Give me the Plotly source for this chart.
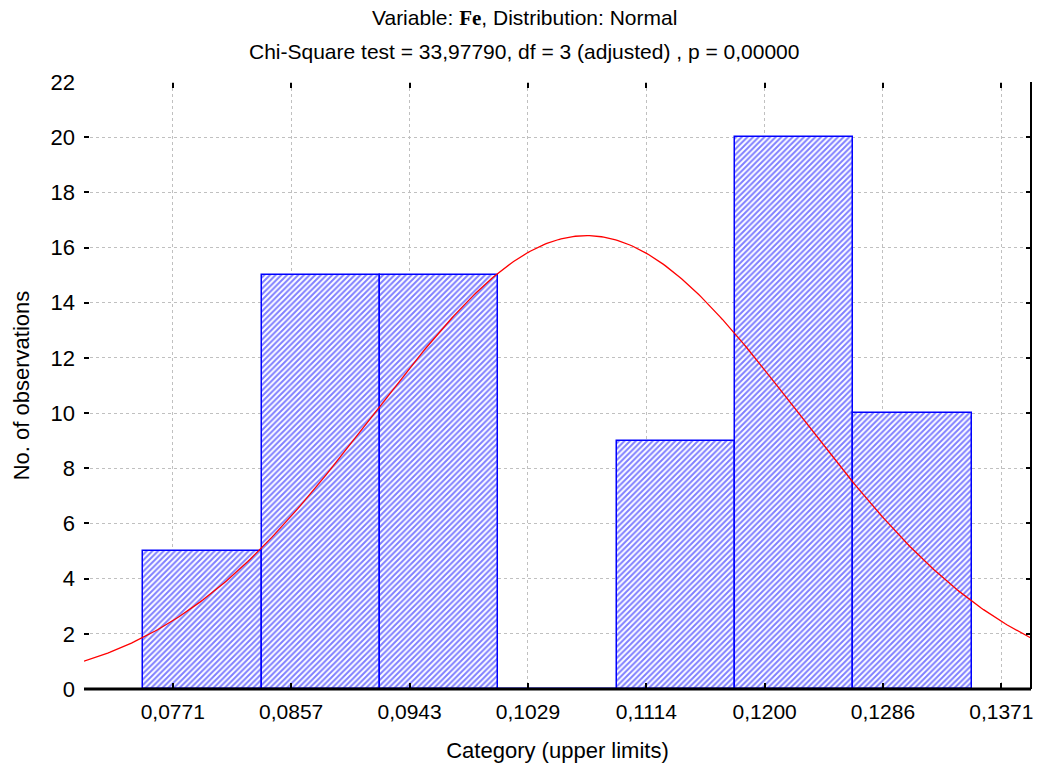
import numpy as np
import plotly.graph_objects as go

# Histogram of Fe with fitted normal curve
bin_edges = [0.0750, 0.08357, 0.09214, 0.10071, 0.10929, 0.11786, 0.12643, 0.1350]
counts = [5, 15, 15, 0, 9, 20, 10]

tick_vals = [0.07714, 0.08571, 0.09429, 0.10286, 0.11143, 0.12000, 0.12857, 0.13714]
tick_text = ["0,0771", "0,0857", "0,0943", "0,1029", "0,1114", "0,1200", "0,1286", "0,1371"]

y_ticks = list(range(0, 23, 2))

# fitted normal distribution parameters
fit_mean = 0.1071
fit_sd = 0.0154

x_range = [0.07071, 0.13929]

edges = np.array(bin_edges)
centers = (edges[:-1] + edges[1:]) / 2
widths = edges[1:] - edges[:-1]
bin_w = float(np.mean(widths))
n_total = sum(counts)

xs = np.linspace(x_range[0], x_range[1], 400)
ys = n_total * bin_w / (fit_sd * np.sqrt(2 * np.pi)) * np.exp(-0.5 * ((xs - fit_mean) / fit_sd) ** 2)

FONT = "Liberation Sans, Arial, sans-serif"

fig = go.Figure()
fig.add_trace(go.Bar(
    x=centers, y=counts, width=widths,
    marker=dict(
        color="white",
        line=dict(color="#0000ff", width=1.5),
        pattern=dict(shape="/", fgcolor="#0000ff", bgcolor="white", size=4, solidity=0.5),
    ),
    showlegend=False,
))
fig.add_trace(go.Scatter(
    x=xs, y=ys, mode="lines",
    line=dict(color="#ff0000", width=1.3),
    showlegend=False,
))

fig.update_layout(
    width=1040, height=772,
    margin=dict(l=84, r=7, t=82, b=83),
    paper_bgcolor="white", plot_bgcolor="white",
    font=dict(family=FONT, color="black"),
    bargap=0,
    annotations=[
        dict(text='Variable: <span style="font-family:Liberation Serif, Times New Roman, serif"><b>Fe</b></span>, Distribution: Normal',
             xref="paper", yref="paper", x=0.4647, y=(689 - 18) / 607,
             xanchor="center", yanchor="middle", showarrow=False,
             font=dict(size=21, family=FONT, color="black")),
        dict(text="Chi-Square test = 33,97790, df = 3 (adjusted) , p = 0,00000",
             xref="paper", yref="paper", x=0.4647, y=(689 - 52) / 607,
             xanchor="center", yanchor="middle", showarrow=False,
             font=dict(size=21, family=FONT, color="black")),
    ],
    shapes=[
        # blank out the grid line along the top edge
        dict(type="line", xref="paper", yref="paper", x0=0, x1=0.97, y0=1, y1=1,
             line=dict(color="white", width=1.5), layer="above"),
        dict(type="line", xref="paper", yref="paper", x0=0, x1=1, y0=0, y1=0,
             line=dict(color="black", width=3), layer="above"),
        dict(type="line", xref="paper", yref="paper", x0=1, x1=1, y0=0, y1=1,
             line=dict(color="black", width=2), layer="above"),
    ],
)

fig.update_xaxes(
    range=x_range, tickvals=tick_vals, ticktext=tick_text,
    showline=False, zeroline=False,
    ticks="inside", ticklen=6, tickwidth=2, tickcolor="black", mirror="ticks",
    showgrid=True, gridcolor="#c0c0c0", griddash="dot", gridwidth=1,
    tickfont=dict(size=21, family=FONT, color="black"),
    ticklabelstandoff=8,
    title=dict(text="Category (upper limits)", font=dict(size=22, family=FONT, color="black"), standoff=20),
)
fig.update_yaxes(
    range=[0, 22], tickvals=y_ticks,
    showline=False, zeroline=False,
    ticks="inside", ticklen=5, tickwidth=2, tickcolor="black", mirror="ticks",
    showgrid=True, gridcolor="#c0c0c0", griddash="dot", gridwidth=1,
    tickfont=dict(size=22, family=FONT, color="black"),
    ticklabelstandoff=8,
    title=dict(text="No. of observations", font=dict(size=22, family=FONT, color="black"), standoff=14),
)

fig.write_html("out.html")
